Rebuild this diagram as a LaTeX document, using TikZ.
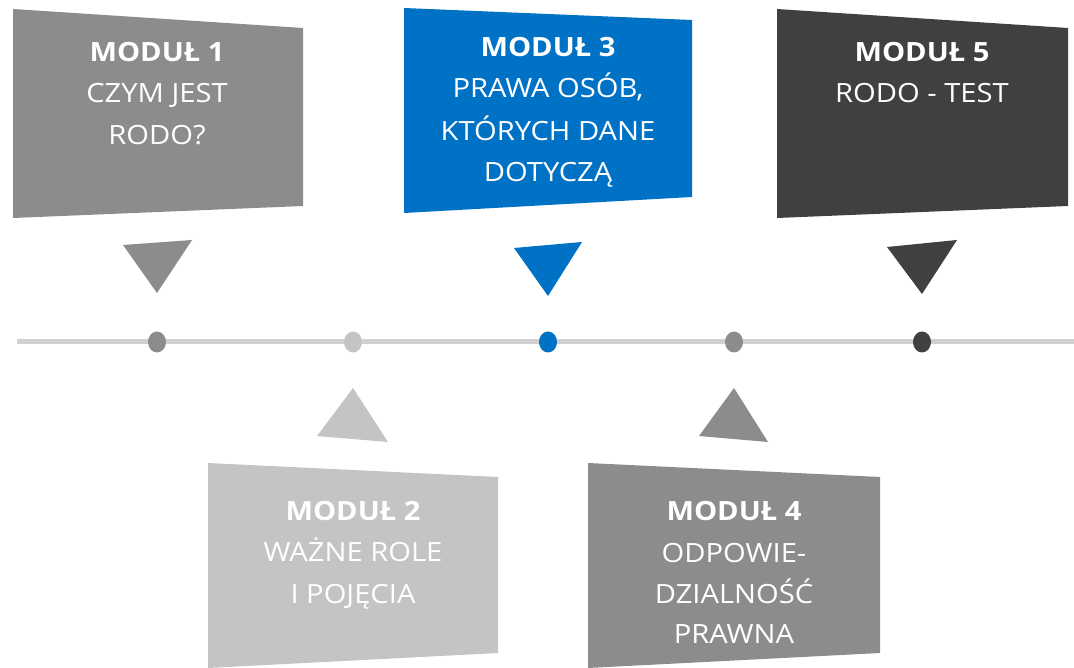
\documentclass[tikz,border=0pt]{standalone}
\usepackage{fontspec}
\setmainfont{Open Sans}[FakeStretch=1.1]
\definecolor{gMid}{HTML}{8C8C8C}
\definecolor{gLight}{HTML}{C4C4C4}
\definecolor{gDark}{HTML}{404040}
\definecolor{bBlue}{HTML}{0072C6}
\definecolor{gLine}{HTML}{D0D0D0}
\begin{document}
\begin{tikzpicture}[x=1pt,y=-1pt,
  txt/.style={font=\fontsize{26.5}{30}\selectfont, text=white, inner sep=0pt, anchor=base},
  ttl/.style={txt, font=\fontsize{26.5}{30}\selectfont\bfseries}]
\useasboundingbox (0,0) rectangle (1074,668);
% timeline
\coordinate (L0) at (17,342);
\coordinate (L1) at (1074,342);
\draw[gLine, line width=5pt] (L0) -- (L1);
% boxes
\fill[gMid]   (13,9)   -- (303,28)  -- (303,206) -- (13,218)  -- cycle;
\fill[bBlue]  (404,8)  -- (692,20)  -- (692,197) -- (404,213) -- cycle;
\fill[gDark]  (777,9)  -- (1068,28) -- (1068,206) -- (777,218) -- cycle;
\fill[gLight] (208,463) -- (498,477) -- (498,653) -- (208,668) -- cycle;
\fill[gMid]   (588,463) -- (880,477) -- (880,653) -- (588,668) -- cycle;
% triangles
\fill[gMid]   (123,245) -- (192,240) -- (157,293) -- cycle;
\fill[bBlue]  (514,248) -- (582,242) -- (548,296) -- cycle;
\fill[gDark]  (887,247) -- (957,240) -- (922,294) -- cycle;
\fill[gLight] (353,388) -- (388,442) -- (317,436) -- cycle;
\fill[gMid]   (734,388) -- (768,442) -- (699,436) -- cycle;
% dots
\fill[gMid]   (157,342) ellipse (9 and 10.5);
\fill[gLight] (353,342) ellipse (9 and 10.5);
\fill[bBlue]  (548,342) ellipse (9 and 10.5);
\fill[gMid]   (734,342) ellipse (9 and 10.5);
\fill[gDark]  (922,342) ellipse (9 and 10.5);
% texts
\node[ttl] (m1a) at (157,62) {MODUŁ 1};
\node[txt] (m1b) at (157,103) {CZYM JEST};
\node[txt] (m1c) at (157,145) {RODO?};
\node[ttl] (m3a) at (548,57) {MODUŁ 3};
\node[txt] (m3b) at (548,98) {PRAWA OSÓB,};
\node[txt] (m3c) at (548,141) {KTÓRYCH DANE};
\node[txt] (m3d) at (548,182) {DOTYCZĄ};
\node[ttl] (m5a) at (922,62) {MODUŁ 5};
\node[txt] (m5b) at (922,103) {RODO - TEST};
\node[ttl] (m2a) at (353,520) {MODUŁ 2};
\node[txt] (m2b) at (353,561) {WAŻNE ROLE};
\node[txt] (m2c) at (353,603) {I POJĘCIA};
\node[ttl] (m4a) at (734,520) {MODUŁ 4};
\node[txt] (m4b) at (734,562) {ODPOWIE-};
\node[txt] (m4c) at (734,603) {DZIALNOŚĆ};
\node[txt] (m4d) at (734,643) {PRAWNA};
\end{tikzpicture}
\end{document}
